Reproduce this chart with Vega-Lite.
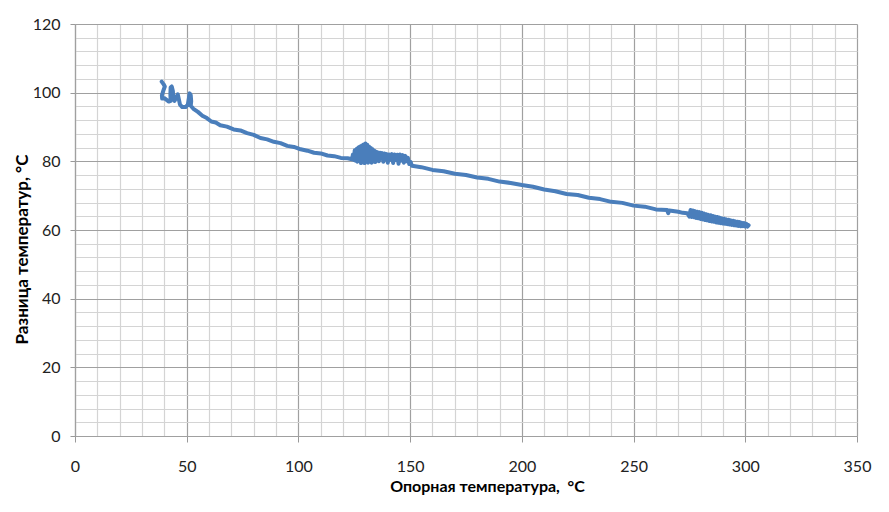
{
  "$schema": "https://vega.github.io/schema/vega-lite/v6.json",
  "width": 782,
  "height": 412,
  "autosize": {"type": "none"},
  "padding": {"left": 75, "top": 24, "right": 32, "bottom": 76},
  "background": "white",
  "config": {"view": {"stroke": null}, "font": "Lato"},
  "data": {"values": [
    {"i":1,"t":38.8,"d":103.2},{"i":2,"t":39.6,"d":102.5},{"i":3,"t":40.2,"d":101.8},{"i":4,"t":39.5,"d":100.5},{"i":5,"t":38.9,"d":99.2},{"i":6,"t":39,"d":98.3},{"i":7,"t":40,"d":98.4},{"i":8,"t":41,"d":97.9},{"i":9,"t":42,"d":97.4},{"i":10,"t":42.8,"d":97.6},{"i":11,"t":42.7,"d":99.5},{"i":12,"t":42.8,"d":101.5},{"i":13,"t":43.3,"d":101.8},{"i":14,"t":43.8,"d":100.5},{"i":15,"t":44,"d":98.5},{"i":16,"t":44.5,"d":97.6},{"i":17,"t":45.3,"d":98.5},{"i":18,"t":46,"d":99.5},{"i":19,"t":46.5,"d":98},{"i":20,"t":47,"d":96.5},{"i":21,"t":48,"d":95.8},{"i":22,"t":49.5,"d":95.8},{"i":23,"t":50.5,"d":96.5},{"i":24,"t":51,"d":98.5},{"i":25,"t":51.3,"d":99.8},{"i":26,"t":51.8,"d":99.3},{"i":27,"t":52,"d":97.5},{"i":28,"t":51.8,"d":96.2},{"i":29,"t":53,"d":95.3},
    {"i":30,"t":55,"d":94.4},{"i":31,"t":57,"d":93.3},{"i":32,"t":59,"d":92.6},{"i":33,"t":61,"d":91.6},{"i":34,"t":63,"d":91.3},{"i":35,"t":65,"d":90.5},{"i":36,"t":68,"d":90.1},{"i":37,"t":71,"d":89.3},{"i":38,"t":74,"d":89},{"i":39,"t":77,"d":88.2},{"i":40,"t":80,"d":87.7},{"i":41,"t":83,"d":86.8},{"i":42,"t":86,"d":86.4},{"i":43,"t":89,"d":85.7},{"i":44,"t":92,"d":85.3},{"i":45,"t":95,"d":84.5},{"i":46,"t":98,"d":84.2},{"i":47,"t":101,"d":83.5},{"i":48,"t":104,"d":83.1},{"i":49,"t":107,"d":82.5},{"i":50,"t":110,"d":82.3},{"i":51,"t":113,"d":81.7},{"i":52,"t":116,"d":81.5},{"i":53,"t":119,"d":81},{"i":54,"t":122,"d":80.9},{"i":55,"t":124,"d":80.6},
    {"i":56,"t":124.4,"d":82.0},{"i":57,"t":124.8,"d":80.4},{"i":58,"t":125.2,"d":83.2},{"i":59,"t":125.6,"d":80.2},{"i":60,"t":126,"d":83.6},{"i":61,"t":126.4,"d":79.9},{"i":62,"t":126.8,"d":84},{"i":63,"t":127.2,"d":80.8},{"i":64,"t":127.6,"d":84.3},{"i":65,"t":128,"d":79.5},{"i":66,"t":128.4,"d":84.6},{"i":67,"t":128.8,"d":81},{"i":68,"t":129.2,"d":84.9},{"i":69,"t":129.6,"d":79.5},{"i":70,"t":130,"d":85.2},{"i":71,"t":130.4,"d":80.2},{"i":72,"t":130.8,"d":84.8},{"i":73,"t":131.2,"d":79.6},{"i":74,"t":131.6,"d":84.3},{"i":75,"t":132,"d":80.5},{"i":76,"t":132.4,"d":83.9},{"i":77,"t":132.8,"d":79.6},{"i":78,"t":133.2,"d":83.5},{"i":79,"t":133.6,"d":80.8},{"i":80,"t":134,"d":83.1},{"i":81,"t":134.4,"d":79.8},{"i":82,"t":134.8,"d":82.8},{"i":83,"t":135.2,"d":80.6},{"i":84,"t":135.6,"d":82.6},{"i":85,"t":136,"d":80},{"i":86,"t":136.5,"d":82.5},{"i":87,"t":137,"d":80.8},{"i":88,"t":137.5,"d":82.4},{"i":89,"t":138,"d":79.9},{"i":90,"t":138.5,"d":82.3},{"i":91,"t":139,"d":80.7},{"i":92,"t":139.5,"d":82.1},{"i":93,"t":140,"d":79.6},{"i":94,"t":140.6,"d":82},{"i":95,"t":141.2,"d":80.5},{"i":96,"t":141.8,"d":82.1},{"i":97,"t":142.4,"d":79.5},{"i":98,"t":143,"d":82},{"i":99,"t":143.6,"d":80.4},{"i":100,"t":144.2,"d":81.9},{"i":101,"t":144.8,"d":79.3},{"i":102,"t":145.4,"d":82},{"i":103,"t":146,"d":80.2},{"i":104,"t":146.6,"d":81.8},{"i":105,"t":147.2,"d":79.6},{"i":106,"t":147.8,"d":81.6},{"i":107,"t":148.4,"d":80},{"i":108,"t":149,"d":81},{"i":109,"t":149.6,"d":79.2},{"i":110,"t":150.2,"d":79.8},{"i":111,"t":150.8,"d":78.7},
    {"i":112,"t":155,"d":78.3},{"i":113,"t":160,"d":77.5},{"i":114,"t":165,"d":77.1},{"i":115,"t":170,"d":76.4},{"i":116,"t":175,"d":76},{"i":117,"t":180,"d":75.3},{"i":118,"t":185,"d":74.9},{"i":119,"t":190,"d":74.1},{"i":120,"t":195,"d":73.7},{"i":121,"t":200,"d":73.1},{"i":122,"t":205,"d":72.6},{"i":123,"t":210,"d":71.8},{"i":124,"t":215,"d":71.3},{"i":125,"t":220,"d":70.5},{"i":126,"t":225,"d":70.2},{"i":127,"t":230,"d":69.4},{"i":128,"t":235,"d":69},{"i":129,"t":240,"d":68.2},{"i":130,"t":245,"d":67.9},{"i":131,"t":250,"d":67.1},{"i":132,"t":255,"d":66.8},{"i":133,"t":260,"d":66},{"i":134,"t":265,"d":65.8},{"i":135,"t":265.5,"d":64.9},{"i":136,"t":266,"d":65.7},{"i":137,"t":270,"d":65.3},{"i":138,"t":272,"d":65},{"i":139,"t":274,"d":64.9},
    {"i":140,"t":275,"d":63.9},{"i":141,"t":275.5,"d":65.8},{"i":142,"t":276,"d":63.8},{"i":143,"t":276.5,"d":65.7},{"i":144,"t":277,"d":63.7},{"i":145,"t":277.5,"d":65.5},{"i":146,"t":278,"d":63.5},{"i":147,"t":278.5,"d":65.3},{"i":148,"t":279,"d":63.4},{"i":149,"t":279.5,"d":65.2},{"i":150,"t":280,"d":63.2},{"i":151,"t":280.5,"d":65},{"i":152,"t":281,"d":63.1},{"i":153,"t":281.5,"d":64.8},{"i":154,"t":282,"d":62.9},{"i":155,"t":282.5,"d":64.6},{"i":156,"t":283,"d":62.8},{"i":157,"t":283.5,"d":64.4},{"i":158,"t":284,"d":62.6},{"i":159,"t":284.5,"d":64.3},{"i":160,"t":285,"d":62.5},{"i":161,"t":285.5,"d":64.1},{"i":162,"t":286,"d":62.4},{"i":163,"t":286.5,"d":63.9},{"i":164,"t":287,"d":62.2},{"i":165,"t":287.5,"d":63.8},{"i":166,"t":288,"d":62.1},{"i":167,"t":288.5,"d":63.6},{"i":168,"t":289,"d":62},{"i":169,"t":289.5,"d":63.4},{"i":170,"t":290,"d":61.9},{"i":171,"t":290.5,"d":63.3},{"i":172,"t":291,"d":61.8},{"i":173,"t":291.5,"d":63.1},{"i":174,"t":292,"d":61.7},{"i":175,"t":292.5,"d":63},{"i":176,"t":293,"d":61.6},{"i":177,"t":293.5,"d":62.8},{"i":178,"t":294,"d":61.5},{"i":179,"t":294.5,"d":62.7},{"i":180,"t":295,"d":61.4},{"i":181,"t":295.5,"d":62.5},{"i":182,"t":296,"d":61.3},{"i":183,"t":296.5,"d":62.4},{"i":184,"t":297,"d":61.2},{"i":185,"t":297.5,"d":62.3},{"i":186,"t":298,"d":61.1},{"i":187,"t":298.5,"d":62.1},{"i":188,"t":299,"d":61.1},{"i":189,"t":299.5,"d":62},{"i":190,"t":300,"d":61},{"i":191,"t":300.5,"d":61.8},{"i":192,"t":301,"d":61},{"i":193,"t":301.5,"d":61.4}
  ]},
  "mark": {"type": "line", "color": "#4a7ebb", "strokeWidth": 4, "strokeJoin": "round", "strokeCap": "round"},
  "encoding": {
    "order": {"field": "i", "type": "quantitative"},
    "x": {
      "field": "t", "type": "quantitative",
      "scale": {"domain": [0, 350], "nice": false, "zero": false},
      "axis": {
        "title": "Опорная температура,\u00a0\u00a0°C",
        "titleFont": "Lato", "titleFontSize": 16, "titleFontWeight": "bold", "titleColor": "#000",
        "titleX": 412, "titleY": 55, "titleBaseline": "alphabetic",
        "values": [0,10,20,30,40,50,60,70,80,90,100,110,120,130,140,150,160,170,180,190,200,210,220,230,240,250,260,270,280,290,300,310,320,330,340,350],
        "labelExpr": "datum.value % 50 === 0 ? datum.label : ''",
        "labelFont": "Lato", "labelFontSize": 16, "labelColor": "#222", "labelPadding": 16,
        "labelOverlap": false, "labelFlush": false,
        "tickSize": 6, "tickColor": "#999",
        "tickOpacity": {"condition": {"test": "datum.value % 50 === 0", "value": 1}, "value": 0},
        "grid": true,
        "gridColor": {"condition": {"test": "datum.value % 50 === 0", "value": "#a0a0a0"}, "value": "#d4d4d4"},
        "gridWidth": 1.2,
        "domainColor": "#a0a0a0", "domainWidth": 1.2
      }
    },
    "y": {
      "field": "d", "type": "quantitative",
      "scale": {"domain": [0, 120], "nice": false, "zero": false},
      "axis": {
        "title": "Разница температур, °C",
        "titleFont": "Lato", "titleFontSize": 17, "titleFontWeight": "bold", "titleColor": "#000",
        "titleX": -48, "titleY": 225, "titleBaseline": "alphabetic", "titleAngle": -90,
        "values": [0,4,8,12,16,20,24,28,32,36,40,44,48,52,56,60,64,68,72,76,80,84,88,92,96,100,104,108,112,116,120],
        "labelExpr": "datum.value % 20 === 0 ? datum.label : ''",
        "labelFont": "Lato", "labelFontSize": 16, "labelColor": "#222", "labelPadding": 10,
        "labelOverlap": false, "labelFlush": false,
        "tickSize": 5, "tickColor": "#999",
        "tickOpacity": {"condition": {"test": "datum.value % 20 === 0", "value": 1}, "value": 0},
        "grid": true,
        "gridColor": {"condition": {"test": "datum.value % 20 === 0", "value": "#a0a0a0"}, "value": "#d4d4d4"},
        "gridWidth": 1.2,
        "domainColor": "#a0a0a0", "domainWidth": 1.2
      }
    }
  }
}
